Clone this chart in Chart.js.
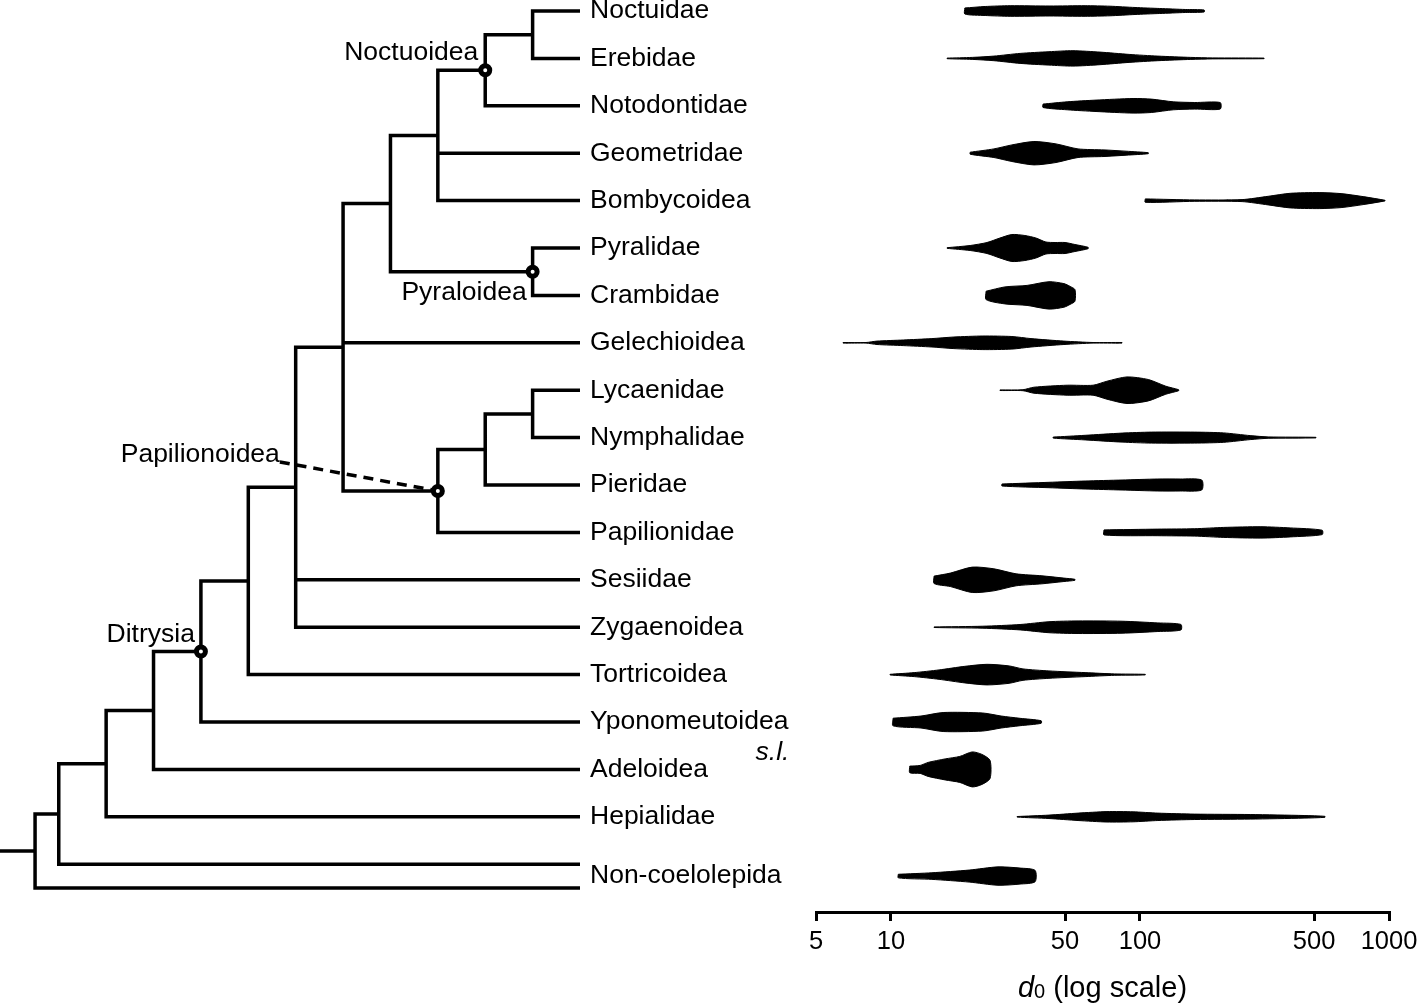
<!DOCTYPE html>
<html>
<head>
<meta charset="utf-8">
<script src="https://cdn.jsdelivr.net/npm/chart.js@4.4.1/dist/chart.umd.min.js"></script>
<style>
  html, body { margin: 0; padding: 0; background: #fff; overflow: hidden; }
  body { width: 1419px; height: 1004px; position: relative; overflow: hidden; }
  #treeWrap { position: absolute; left: 0; top: -40px; width: 800px; height: 1044px; }
  #violinWrap { position: absolute; left: 800px; top: -40px; width: 640px; height: 1044px; }
</style>
</head>
<body>
<div id="treeWrap"><canvas id="treeChart"></canvas></div>
<div id="violinWrap"><canvas id="violinChart"></canvas></div>
<script>
// ---------------- DATA ----------------
const taxa = ['Noctuidae', 'Erebidae', 'Notodontidae', 'Geometridae', 'Bombycoidea', 'Pyralidae',
  'Crambidae', 'Gelechioidea', 'Lycaenidae', 'Nymphalidae', 'Pieridae', 'Papilionidae', 'Sesiidae',
  'Zygaenoidea', 'Tortricoidea', 'Yponomeutoidea', 'Adeloidea', 'Hepialidae', 'Non-coelolepida'];
const taxonRow = [0, 1, 2, 3, 4, 5, 6, 7, 8, 9, 10, 11, 12, 13, 14, 15, 16, 17, 18.25];

// tree tips (Non-coelolepida has two tips)
const leafNames = ['Noctuidae', 'Erebidae', 'Notodontidae', 'Geometridae', 'Bombycoidea', 'Pyralidae',
  'Crambidae', 'Gelechioidea', 'Lycaenidae', 'Nymphalidae', 'Pieridae', 'Papilionidae', 'Sesiidae',
  'Zygaenoidea', 'Tortricoidea', 'Yponomeutoidea', 'Adeloidea', 'Hepialidae',
  'Non-coelolepida (i)', 'Non-coelolepida (ii)'];
const leafRows = [0, 1, 2, 3, 4, 5, 6, 7, 8, 9, 10, 11, 12, 13, 14, 15, 16, 17, 18, 18.5];

// topology with node heights (distance from tips, in branch-level units)
const tree = {h: 11.5, c: [
  {h: 11, c: [
    {h: 10, c: [
      {h: 9, c: [
        {h: 8, id: 'Ditrysia', c: [
          {h: 7, c: [
            {h: 6, c: [
              {h: 5, c: [
                {h: 4, c: [
                  {h: 3, c: [
                    {h: 2, id: 'Noctuoidea', c: [{h: 1, c: ['Noctuidae', 'Erebidae']}, 'Notodontidae']},
                    'Geometridae', 'Bombycoidea']},
                  {h: 1, id: 'Pyraloidea', c: ['Pyralidae', 'Crambidae']}]},
                'Gelechioidea',
                {h: 3, id: 'Papilionoidea', c: [
                  {h: 2, c: [{h: 1, c: ['Lycaenidae', 'Nymphalidae']}, 'Pieridae']},
                  'Papilionidae']}]},
              'Sesiidae', 'Zygaenoidea']},
            'Tortricoidea']},
          'Yponomeutoidea']},
        'Adeloidea']},
      'Hepialidae']},
    'Non-coelolepida (i)']},
  'Non-coelolepida (ii)']};
const rootBranch = 0.74;
const cladeNames = ['Noctuoidea', 'Pyraloidea', 'Papilionoidea', 'Ditrysia'];
const taxonNotes = ['s.l.'];          // note attached to Yponomeutoidea
const notedTaxon = ['Yponomeutoidea'];

// x-axis ticks
const axisTicks = [5, 10, 50, 100, 500, 1000];

// violin outlines: [d0, relative density (half width)]
const violinNoctuidae = [[19.8,3],[23.9,4.5],[30.1,5.3],[43.5,5],[60.2,5.3],[75.8,4.8],[95.5,3.5],[120,2.5],[152,1.5],[181,1]];
const violinErebidae = [[16.8,0.3],[21.2,1],[25.9,2.3],[33,5],[43.1,6.7],[53.8,7.7],[69.1,6.3],[90.4,4],[118,2.3],[160,1],[196,0.5],[315,0.3]];
const violinNotodontidae = [[40.8,1.7],[51,4],[66.6,5.7],[93.8,7.3],[111,6.7],[136,4],[166,3.3],[210,3.3]];
const violinGeometridae = [[20.8,1],[25.9,4.3],[30.6,8.3],[37.5,11.7],[46,9.3],[56.4,4.3],[71.7,3.3],[87.9,2],[108,0.5]];
const violinBombycoidea = [[105,1.7],[166,0.7],[257,1],[327,4.3],[401,7.3],[524,8],[642,7],[787,4],[964,0.3]];
const violinPyralidae = [[16.8,0.3],[20.8,2.5],[24.3,5.5],[27.4,10],[30.6,13.5],[34.5,12.5],[38.2,10],[41.9,6],[45.6,5.5],[50,5.5],[54.8,3.5],[61.9,0.7]];
const violinCrambidae = [[24.1,4.2],[28.7,8.5],[35.2,10],[43.1,13.7],[49.5,11.8],[52.4,9],[54.8,5.8]];
const violinGelechioidea = [[6.42,0.3],[7.94,0.3],[8.79,1.7],[11.2,2.8],[14.6,4.2],[17.9,5.8],[23.4,6.8],[30.6,6.3],[36.5,4.2],[49.5,1.7],[64.8,0.3],[84.7,0.3]];
const violinLycaenidae = [[27.4,0.3],[33.9,0.5],[37.5,3],[51,5],[64.8,5],[73.7,9],[88.7,13.3],[108,10.7],[127,4],[143,0.5]];
const violinNymphalidae = [[44.8,0.5],[60.2,2.3],[84.7,4.5],[111,5.5],[166,5.5],[217,4.7],[277,2],[327,0.7],[509,0.3]];
const violinPieridae = [[27.9,1],[43.1,2.7],[60.2,4],[84.7,5],[118,6],[145,6],[177,5]];
const violinPapilionidae = [[71.7,2.5],[118,3.3],[166,3.7],[217,5],[306,5.7],[401,4.5],[539,2.2]];
const violinSesiidae = [[14.9,3.7],[17.3,6.7],[21.2,12.7],[25.9,11],[31.8,6],[40.4,4],[49.5,1.7],[54.8,0.5]];
const violinZygaenoidea = [[14.9,0.3],[23.4,1],[33,2.7],[43.1,5.5],[56.4,6.3],[84.7,6],[118,4.3],[146,2.8]];
const violinTortricoidea = [[9.91,0.3],[12.4,2],[15.6,4.7],[19.8,8.3],[24.3,10.3],[29.8,8.7],[33.9,5.7],[43.1,3.7],[60.2,2],[79.2,0.7],[105,0.3]];
const violinYponomeutoidea = [[10.2,3.8],[13.2,6],[16.2,9.5],[23.4,9],[27.7,6],[33,3.7],[40.1,1.3]];
const violinAdeloidea = [[11.9,3.3],[13.1,4],[14.1,7],[16.5,10.5],[18.9,13],[21.2,17.5],[23.2,15],[25,9]];
const violinHepialidae = [[32.1,0.3],[43.1,1.7],[56.4,3.7],[73.7,5.2],[93.8,5],[118,3.7],[166,2.7],[277,2.3],[456,1.3],[553,0.5]];
const violinNonCoelolepida = [[10.7,1.8],[14.6,3.3],[20.6,6],[26.9,9.2],[33,8],[37.9,5.7]];

// ---------------- LAYOUT / STYLE ----------------
const FONT = "'Liberation Sans', Arial, Helvetica, sans-serif";
const LABEL_SIZE = 26.5;
const TICK_SIZE = 25.5;
const TITLE_SIZE = 29;
const TREE_LINE = 3.5;
const yMin = -0.443, yMax = 19.008;     // shared vertical range of both panels
const densityToRows = 1 / 47.4;         // half-width units -> row units
const cladeLabelOffset = {               // px offsets of clade label (right edge, baseline) from node
  Noctuoidea: [-7, -10], Pyraloidea: [-6, 28], Papilionoidea: [-158, -29], Ditrysia: [-6, -9]
};
Chart.defaults.font.family = FONT;
Chart.defaults.color = '#000';

// ---------------- TREE GEOMETRY (computed from topology) ----------------
const nodeById = {};
function layout(n) {
  if (typeof n === 'string') return {x: 0, y: leafRows[leafNames.indexOf(n)]};
  const kids = n.c.map(layout);
  const ys = kids.map(k => k.y);
  const node = {x: n.h, y: (Math.min(...ys) + Math.max(...ys)) / 2, kids};
  if (n.id) nodeById[n.id] = node;
  return node;
}
const root = layout(tree);
const treeSegs = [];
treeSegs.push({x: root.x + rootBranch, y: root.y}, {x: root.x, y: root.y}, {x: null, y: null});
(function walk(n) {
  if (!n.kids) return;
  n.kids.forEach(k => {
    treeSegs.push({x: n.x, y: n.y}, {x: n.x, y: k.y}, {x: k.x, y: k.y}, {x: null, y: null});
    walk(k);
  });
})(root);
const cladePoints = cladeNames.map(id => ({x: nodeById[id].x, y: nodeById[id].y}));

const cladePlugin = {
  id: 'cladeLabels',
  beforeDatasetsDraw(chart) {
    const {ctx, scales: {x, y}} = chart;
    const n = nodeById['Papilionoidea'];
    const o = cladeLabelOffset['Papilionoidea'];
    const px = x.getPixelForValue(n.x), py = y.getPixelForValue(n.y);
    ctx.save();
    ctx.strokeStyle = '#000';
    ctx.lineWidth = TREE_LINE;
    ctx.setLineDash([10, 7]);
    ctx.beginPath();
    ctx.moveTo(px + o[0], py + o[1]);
    ctx.lineTo(px, py);
    ctx.stroke();
    ctx.restore();
  },
  afterDatasetsDraw(chart) {
    const {ctx, scales: {x, y}} = chart;
    ctx.save();
    ctx.fillStyle = '#000';
    ctx.textAlign = 'right';
    ctx.textBaseline = 'alphabetic';
    ctx.font = LABEL_SIZE + 'px ' + FONT;
    cladeNames.forEach(id => {
      const n = nodeById[id], o = cladeLabelOffset[id];
      ctx.fillText(id, x.getPixelForValue(n.x) + o[0], y.getPixelForValue(n.y) + o[1]);
    });
    // "s.l." note under Yponomeutoidea, right-aligned to the label end
    notedTaxon.forEach((t, i) => {
      const w = ctx.measureText(t).width;
      const xr = y.left + 10 + w + 1;
      ctx.font = 'italic ' + LABEL_SIZE + 'px ' + FONT;
      ctx.fillText(taxonNotes[i], xr, y.getPixelForValue(taxonRow[taxa.indexOf(t)]) + 38);
      ctx.font = LABEL_SIZE + 'px ' + FONT;
    });
    ctx.restore();
  }
};

new Chart(document.getElementById('treeChart'), {
  type: 'line',
  data: {
    datasets: [
      {data: cladePoints, showLine: false, pointRadius: 4.5, pointBorderWidth: 5,
        pointBackgroundColor: '#fff', pointBorderColor: '#000', clip: false, order: 0},
      {data: treeSegs, borderColor: '#000', borderWidth: TREE_LINE, pointRadius: 0, tension: 0,
        borderJoinStyle: 'miter', borderCapStyle: 'butt', spanGaps: false, clip: false, order: 1}
    ]
  },
  options: {
    responsive: true, maintainAspectRatio: false, animation: false, devicePixelRatio: 1,
    events: [],
    layout: {autoPadding: false, padding: {top: 30, bottom: 92, left: 0, right: 0}},
    plugins: {legend: {display: false}, tooltip: {enabled: false}},
    scales: {
      x: {type: 'linear', reverse: true, min: 0, max: tree.h + rootBranch, display: false},
      y: {type: 'linear', position: 'right', reverse: true, min: yMin, max: yMax, bounds: 'data',
        grid: {display: false, drawTicks: false}, border: {display: false},
        afterFit: s => { s.width = 220; },
        afterBuildTicks: s => { s.ticks = taxonRow.map(v => ({value: v})); },
        ticks: {autoSkip: false, padding: 10, color: '#000',
          font: {size: LABEL_SIZE, family: FONT},
          callback: (v, i) => taxa[i]}
      }
    }
  },
  plugins: [cladePlugin]
});

// ---------------- VIOLINS ----------------
const violinData = [violinNoctuidae, violinErebidae, violinNotodontidae, violinGeometridae,
  violinBombycoidea, violinPyralidae, violinCrambidae, violinGelechioidea, violinLycaenidae,
  violinNymphalidae, violinPieridae, violinPapilionidae, violinSesiidae, violinZygaenoidea,
  violinTortricoidea, violinYponomeutoidea, violinAdeloidea, violinHepialidae, violinNonCoelolepida];

const violinDatasets = violinData.map((v, i) => {
  const row = taxonRow[i];
  const upper = v.map(([d, w]) => ({x: d, y: row - w * densityToRows}));
  const lower = v.slice().reverse().map(([d, w]) => ({x: d, y: row + w * densityToRows}));
  return {
    data: upper.concat(lower, [upper[0]]),
    fill: 'shape', backgroundColor: '#000', borderColor: '#000', borderWidth: 1,
    pointRadius: 0, tension: 0.25, clip: false
  };
});

const titlePlugin = {
  id: 'axisTitle',
  afterDraw(chart) {
    const {ctx, chartArea} = chart;
    const cx = (chartArea.left + chartArea.right) / 2;
    const by = chartArea.bottom + 85;
    const parts = [
      {t: 'd', f: 'italic ' + TITLE_SIZE + 'px ' + FONT, dy: 0},
      {t: '0', f: '20px ' + FONT, dy: 1},
      {t: ' (log scale)', f: TITLE_SIZE + 'px ' + FONT, dy: 0}
    ];
    ctx.save();
    ctx.fillStyle = '#000';
    ctx.textAlign = 'left';
    ctx.textBaseline = 'alphabetic';
    let total = 0;
    parts.forEach(p => { ctx.font = p.f; p.w = ctx.measureText(p.t).width; total += p.w; });
    let x = cx - total / 2;
    parts.forEach(p => { ctx.font = p.f; ctx.fillText(p.t, x, by + p.dy); x += p.w; });
    ctx.restore();
  }
};

new Chart(document.getElementById('violinChart'), {
  type: 'line',
  data: {datasets: violinDatasets},
  options: {
    responsive: true, maintainAspectRatio: false, animation: false, devicePixelRatio: 1,
    events: [],
    layout: {autoPadding: false, padding: {top: 30, left: 16, right: 51, bottom: 0}},
    plugins: {legend: {display: false}, tooltip: {enabled: false}},
    scales: {
      x: {type: 'logarithmic', min: 5, max: 1000, position: 'bottom', bounds: 'data',
        afterBuildTicks: s => { s.ticks = axisTicks.map(v => ({value: v})); },
        afterFit: s => { s.height = 92; },
        grid: {display: true, drawOnChartArea: false, drawTicks: true, tickLength: 9, lineWidth: 3, color: '#000'},
        border: {display: true, width: 3, color: '#000'},
        ticks: {autoSkip: false, maxRotation: 0, minRotation: 0, padding: 6, color: '#000',
          font: {size: TICK_SIZE, family: FONT}, callback: v => String(v)}
      },
      y: {type: 'linear', reverse: true, min: yMin, max: yMax, bounds: 'data', display: false}
    }
  },
  plugins: [titlePlugin]
});
</script>
</body>
</html>
